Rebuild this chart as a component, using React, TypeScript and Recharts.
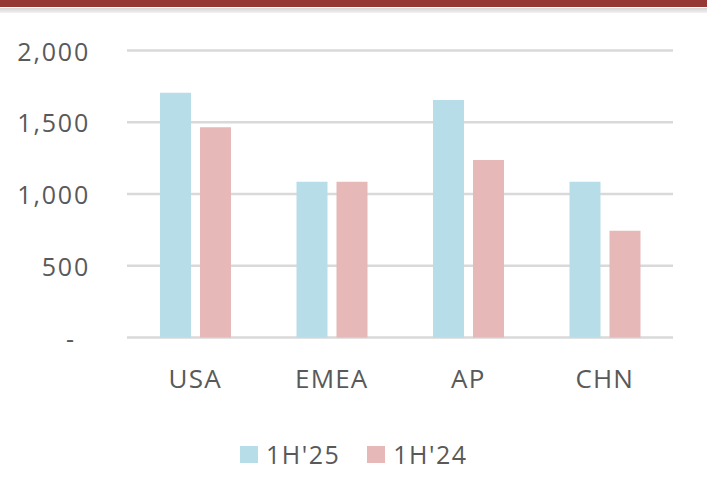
import { BarChart, Bar, XAxis, YAxis, CartesianGrid } from 'recharts';

const regions = ['USA', 'EMEA', 'AP', 'CHN'];
const h1_25 = [1705, 1085, 1655, 1085];
const h1_24 = [1465, 1085, 1237, 744];
const yTicks = [0, 500, 1000, 1500, 2000];

const series = [
  { key: 'h1_25', name: "1H'25", color: '#B7DDE8' },
  { key: 'h1_24', name: "1H'24", color: '#E6B8B7' }
];

const data = regions.map((region, i) => ({ region, h1_25: h1_25[i], h1_24: h1_24[i] }));

const FONT = '"Open Sans", "Liberation Sans", sans-serif';
const TEXT = '#595959';

function YTick({ y, payload }: any) {
  const v = payload.value as number;
  if (v === 0) {
    return (
      <text x={70} y={y} textAnchor="middle" dominantBaseline="central" fill={TEXT} fontSize={25} fontFamily={FONT}>
        -
      </text>
    );
  }
  return (
    <text x={90} y={y} textAnchor="end" dominantBaseline="central" fill={TEXT} fontSize={25} fontFamily={FONT} letterSpacing={1.8}>
      {v.toLocaleString('en-US')}
    </text>
  );
}

function XTick({ x, y, payload }: any) {
  return (
    <text x={x} y={y + 42} textAnchor="middle" fill={TEXT} fontSize={26} fontFamily={FONT} letterSpacing={1.2}>
      {payload.value}
    </text>
  );
}

export default function App() {
  return (
    <div style={{ position: 'relative', width: 707, height: 503, background: '#fff', overflow: 'hidden' }}>
      <style>{'body{margin:0}'}</style>
      <div style={{ position: 'absolute', left: 0, top: 0, width: 707, height: 7, background: '#953735' }} />
      <div
        style={{
          position: 'absolute',
          left: 0,
          top: 8,
          width: 707,
          height: 5,
          background: 'linear-gradient(#d4d4d4, #f2f2f2)'
        }}
      />
      <div style={{ position: 'absolute', left: 0, top: 0 }}>
        <BarChart
          width={707}
          height={503}
          data={data}
          margin={{ top: 50.5, right: 34, bottom: 125.5, left: 0 }}
          barSize={31}
          barGap={9}
        >
          <CartesianGrid vertical={false} stroke="#D9D9D9" strokeWidth={2.5} horizontalValues={yTicks} />
          <XAxis dataKey="region" axisLine={false} tickLine={false} tick={<XTick />} height={40} />
          <YAxis
            domain={[0, 2000]}
            ticks={yTicks}
            axisLine={false}
            tickLine={false}
            tick={<YTick />}
            width={127}
            interval={0}
          />
          {series.map((s) => (
            <Bar key={s.key} dataKey={s.key} name={s.name} fill={s.color} isAnimationActive={false} />
          ))}
        </BarChart>
      </div>
      <div
        style={{
          position: 'absolute',
          left: 240,
          top: 437,
          display: 'flex',
          alignItems: 'center',
          fontFamily: FONT,
          fontSize: 25,
          color: TEXT
        }}
      >
        {series.map((s, i) => (
          <div key={s.key} style={{ display: 'flex', alignItems: 'center', marginLeft: i === 0 ? 0 : 27 }}>
            <span style={{ display: 'inline-block', width: 18, height: 17, background: s.color, marginRight: 8 }} />
            <span style={{ letterSpacing: 1.5 }}>{s.name}</span>
          </div>
        ))}
      </div>
    </div>
  );
}
